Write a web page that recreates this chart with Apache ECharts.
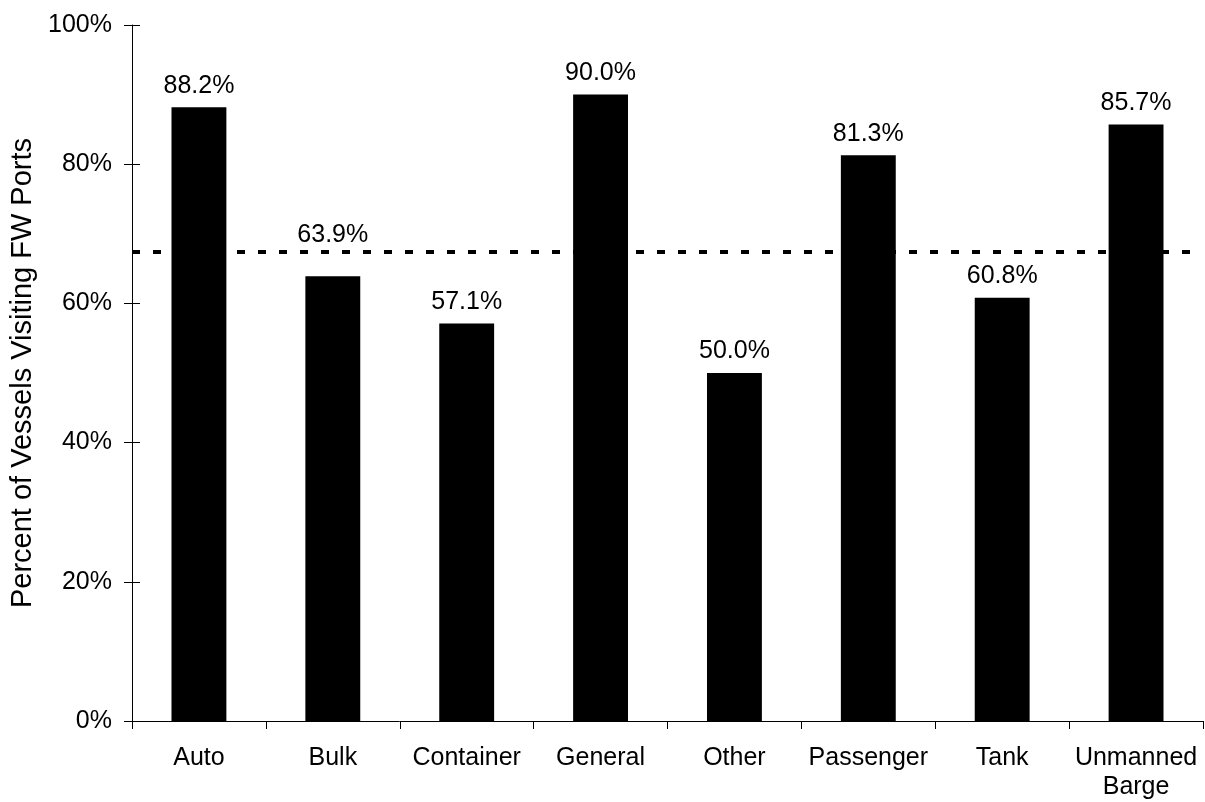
<!DOCTYPE html>
<html>
<head>
<meta charset="utf-8">
<script src="https://cdn.jsdelivr.net/npm/echarts@6/dist/echarts.min.js"></script>
<style>
  html, body { margin: 0; padding: 0; background: #fff; }
  #chart { width: 1205px; height: 802px; }
</style>
</head>
<body>
<div id="chart"></div>
<script>
var categories = ['Auto', 'Bulk', 'Container', 'General', 'Other', 'Passenger', 'Tank', 'Unmanned\nBarge']
var percentValues = [88.2, 63.9, 57.1, 90.0, 50.0, 81.3, 60.8, 85.7]
var averageValue = 67.4
var yTicks = [0, 20, 40, 60, 80, 100]

var font = 'Arial, "Liberation Sans", sans-serif'

// the Bulk label sits lifted above the dashed average line
var barData = percentValues.map(function (v, i) {
  if (categories[i] === 'Bulk') {
    return { value: v, label: { offset: [0, -20] } }
  }
  return v
})

var chart = echarts.init(document.getElementById('chart'))
var option = {
  backgroundColor: '#fff',
  animation: false,
  grid: {
    left: 132,
    right: 2,
    top: 25,
    bottom: 80,
    containLabel: false
  },
  xAxis: {
    type: 'category',
    data: categories,
    axisLine: { lineStyle: { color: '#000', width: 1 } },
    axisTick: { show: true, length: 8, lineStyle: { color: '#000' } },
    axisLabel: {
      color: '#000',
      fontFamily: font,
      fontSize: 25,
      lineHeight: 29,
      margin: 23,
      interval: 0
    }
  },
  yAxis: [{
    type: 'value',
    min: yTicks[0],
    max: yTicks[yTicks.length - 1],
    interval: 20,
    name: 'Percent of Vessels Visiting FW Ports',
    nameLocation: 'middle',
    nameGap: 95,
    nameTextStyle: { color: '#000', fontFamily: font, fontSize: 29 },
    axisLine: { show: true, lineStyle: { color: '#000', width: 1 } },
    axisTick: { show: true, length: 8, lineStyle: { color: '#000' } },
    axisLabel: {
      color: '#000',
      fontFamily: font,
      fontSize: 25,
      margin: 20,
      formatter: function (v) { return v + '%' }
    },
    splitLine: { show: false }
  }, {
    // second axis only for the inner half of the crossing ticks
    type: 'value',
    position: 'left',
    min: yTicks[0],
    max: yTicks[yTicks.length - 1],
    interval: 20,
    axisLine: { show: false },
    axisTick: { show: true, inside: true, length: 8, lineStyle: { color: '#000' } },
    axisLabel: { show: false },
    splitLine: { show: false }
  }],
  series: [{
    type: 'bar',
    data: barData,
    barWidth: '41%',
    itemStyle: { color: '#000' },
    label: {
      show: true,
      position: 'top',
      distance: 9,
      color: '#000',
      fontFamily: font,
      fontSize: 25,
      formatter: function (p) { return p.value.toFixed(1) + '%' }
    },
    markLine: {
      silent: true,
      symbol: 'none',
      label: { show: false },
      lineStyle: {
        color: '#000',
        width: 4,
        type: [8, 13],
        dashOffset: 0
      },
      data: [{ yAxis: averageValue }]
    }
  }]
}
chart.setOption(option)
</script>
</body>
</html>
